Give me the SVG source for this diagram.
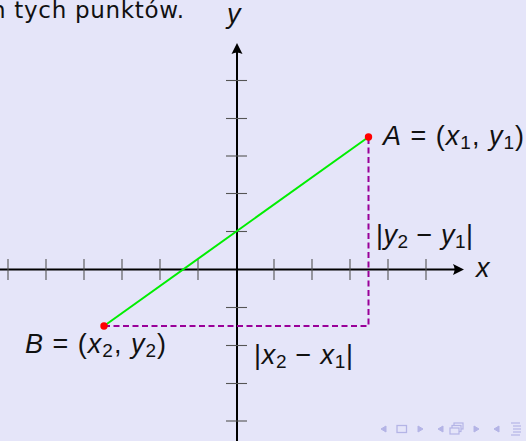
<svg xmlns="http://www.w3.org/2000/svg" width="526" height="441" viewBox="0 0 526 441">
<style>
.t{font-family:"DejaVu Sans","Liberation Sans",sans-serif;fill:#111;}
.m{font-family:"Liberation Sans","Arial",sans-serif;fill:#111;font-size:27px;}
.i{font-style:italic;}
.s{font-size:19px;}
.axis{stroke:#000;stroke-width:2;fill:none;}
.tick{stroke:#555;stroke-width:1.1;}
.dash{stroke:#990099;stroke-width:2;stroke-dasharray:6 3.5;fill:none;}
.nav{fill:#b4b4e6;stroke:#b4b4e6;}
</style>
<rect width="526" height="441" fill="#e5e5f9"/>
<text class="t" x="-9" y="18" font-size="23" textLength="193">n tych punktów.</text>
<g id="axes">
<line class="axis" x1="0" y1="269.5" x2="460" y2="269.5"/>
<path d="M464 269.5 L453 264 Q456 269.5 453 275 Z" fill="#000"/>
<line class="axis" x1="237" y1="441" x2="237" y2="47"/>
<path d="M237 43 L231.5 54 Q237 51 242.5 54 Z" fill="#000"/>
<g class="tick">
<line x1="8" y1="259" x2="8" y2="280"/><line x1="46" y1="259" x2="46" y2="280"/><line x1="84" y1="259" x2="84" y2="280"/><line x1="122" y1="259" x2="122" y2="280"/><line x1="160" y1="259" x2="160" y2="280"/><line x1="198" y1="259" x2="198" y2="280"/>
<line x1="274" y1="259" x2="274" y2="280"/><line x1="312" y1="259" x2="312" y2="280"/><line x1="350" y1="259" x2="350" y2="280"/><line x1="388" y1="259" x2="388" y2="280"/><line x1="426" y1="259" x2="426" y2="280"/>
<line x1="226" y1="80.5" x2="247" y2="80.5"/><line x1="226" y1="118.5" x2="247" y2="118.5"/><line x1="226" y1="156" x2="247" y2="156"/><line x1="226" y1="193.5" x2="247" y2="193.5"/><line x1="226" y1="231.5" x2="247" y2="231.5"/>
<line x1="226" y1="307.5" x2="247" y2="307.5"/><line x1="226" y1="345.5" x2="247" y2="345.5"/><line x1="226" y1="383.5" x2="247" y2="383.5"/><line x1="226" y1="421" x2="247" y2="421"/>
</g>
<text class="m i" x="476" y="277">x</text>
<text class="m i" x="227" y="23">y</text>
</g>
<g id="connectors">
<line x1="104" y1="326" x2="368.5" y2="137" stroke="#00ee00" stroke-width="2"/>
<polyline class="dash" points="104,326 368.5,326 368.5,137"/>
</g>
<g id="pointA">
<circle cx="368.5" cy="137" r="3.7" fill="#ff0000"/>
<text class="m" x="383" y="145" textLength="141"><tspan class="i">A</tspan> = (<tspan class="i">x</tspan><tspan class="s" dy="4">1</tspan><tspan dy="-4">, </tspan><tspan class="i">y</tspan><tspan class="s" dy="4">1</tspan><tspan dy="-4">)</tspan></text>
</g>
<g id="pointB">
<circle cx="104" cy="326" r="3.7" fill="#ff0000"/>
<text class="m" x="25" y="353" textLength="141"><tspan class="i">B</tspan> = (<tspan class="i">x</tspan><tspan class="s" dy="4">2</tspan><tspan dy="-4">, </tspan><tspan class="i">y</tspan><tspan class="s" dy="4">2</tspan><tspan dy="-4">)</tspan></text>
</g>
<g id="labelDx">
<text class="m" x="254" y="364" textLength="99">|<tspan class="i">x</tspan><tspan class="s" dy="4">2</tspan><tspan dy="-4"> − </tspan><tspan class="i">x</tspan><tspan class="s" dy="4">1</tspan><tspan dy="-4">|</tspan></text>
</g>
<g id="labelDy">
<text class="m" x="376" y="244" textLength="97">|<tspan class="i">y</tspan><tspan class="s" dy="4">2</tspan><tspan dy="-4"> − </tspan><tspan class="i">y</tspan><tspan class="s" dy="4">1</tspan><tspan dy="-4">|</tspan></text>
</g>
<g id="nav">
<path class="nav" d="M386 426 L381 429 L386 432 Z"/>
<rect x="397" y="425.5" width="9.5" height="7" fill="none" stroke="#b4b4e6" stroke-width="1.3"/>
<path class="nav" d="M418 426 L423 429 L418 432 Z"/>
<path class="nav" d="M443 426 L438 429 L443 432 Z"/>
<rect x="454" y="423" width="9" height="6" fill="none" stroke="#b4b4e6" stroke-width="1.2"/>
<rect x="452" y="425.5" width="9" height="6" fill="#e5e5f9" stroke="#b4b4e6" stroke-width="1.2"/>
<rect x="450" y="428" width="9" height="6" fill="#e5e5f9" stroke="#b4b4e6" stroke-width="1.2"/>
<path class="nav" d="M474 426 L479 429 L474 432 Z"/>
<path class="nav" d="M499 426 L494 429 L499 432 Z"/>
<g stroke="#b4b4e6" stroke-width="1.2"><line x1="511" y1="423" x2="520" y2="423"/><line x1="513" y1="426" x2="521" y2="426"/><line x1="513" y1="429" x2="521" y2="429"/><line x1="513" y1="432" x2="521" y2="432"/><line x1="511" y1="435" x2="520" y2="435"/></g>
</g>
</svg>
